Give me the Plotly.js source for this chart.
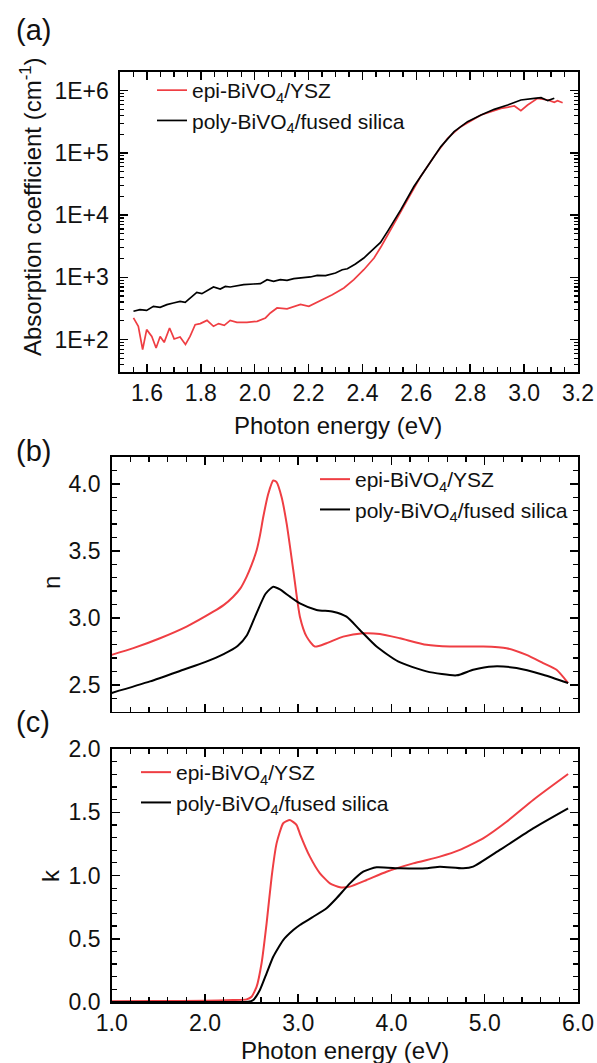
<!DOCTYPE html>
<html><head><meta charset="utf-8">
<script src="https://cdn.plot.ly/plotly-3.0.1.min.js"></script>
<style>html,body{margin:0;padding:0;background:#fff}#chart{width:597px;height:1063px}</style>
</head><body><div id="chart"></div>
<script>
// ---------- data ----------
const labelEpi = 'epi-BiVO<sub>4</sub>/YSZ';
const labelPoly = 'poly-BiVO<sub>4</sub>/fused silica';

// (a) absorption coefficient (cm^-1) vs photon energy (eV)
const absEpiE = [1.550,1.568,1.584,1.599,1.618,1.634,1.649,1.664,1.684,1.701,1.723,1.743,1.760,1.779,1.798,1.823,1.847,1.866,1.887,1.909,1.934,1.971,2.009,2.040,2.058,2.083,2.120,2.145,2.170,2.201,2.226,2.256,2.288,2.331,2.368,2.405,2.443,2.470,2.517,2.567,2.616,2.666,2.716,2.765,2.840,2.914,2.964,2.988,3.013,3.050,3.088,3.112,3.124,3.143];
const absEpi = [222,163,69,144,112,73,112,90,153,102,110,83,112,173,180,203,163,180,169,203,189,189,196,222,267,321,310,341,367,341,386,437,526,673,914,1324,2042,3162,7447,17620,41690,87300,172200,264200,407400,521200,567500,477500,588800,755100,709600,651600,691800,641200];
const absPolyE = [1.550,1.574,1.599,1.624,1.649,1.674,1.698,1.723,1.742,1.760,1.785,1.804,1.823,1.847,1.872,1.891,1.909,1.934,1.959,1.996,2.021,2.046,2.070,2.095,2.120,2.145,2.170,2.207,2.232,2.263,2.300,2.325,2.344,2.374,2.405,2.440,2.467,2.495,2.523,2.542,2.591,2.641,2.691,2.740,2.790,2.840,2.889,2.939,2.988,3.038,3.063,3.088,3.112];
const absPoly = [284,302,294,341,329,363,386,410,395,466,573,546,617,698,649,714,698,733,760,780,789,914,859,914,891,951,965,1012,1074,1062,1172,1324,1374,1633,2042,2818,3631,5623,8913,12160,28770,60260,126200,219800,317700,407400,502300,588800,709600,755100,772700,691800,755100];
const absTickVals = [1e2,1e3,1e4,1e5,1e6];
const absTickText = ['1E+2','1E+3','1E+4','1E+5','1E+6'];

// (b) refractive index n
const nEpiE = [1.0,1.232,1.518,1.803,2.089,2.200,2.303,2.380,2.446,2.500,2.554,2.590,2.625,2.679,2.732,2.768,2.822,2.876,2.947,3.018,3.090,3.179,3.304,3.482,3.697,3.876,4.090,4.376,4.626,4.983,5.234,5.448,5.626,5.770,5.894];
const nEpi = [2.724,2.774,2.848,2.935,3.046,3.095,3.158,3.220,3.306,3.395,3.504,3.615,3.752,3.926,4.025,4.012,3.900,3.703,3.356,3.009,2.860,2.786,2.811,2.860,2.885,2.880,2.848,2.799,2.786,2.786,2.774,2.724,2.663,2.613,2.514];
const nPolyE = [1.0,1.411,1.768,2.000,2.200,2.350,2.450,2.550,2.650,2.732,2.804,2.911,3.018,3.197,3.375,3.518,3.661,3.840,4.070,4.376,4.698,4.876,5.090,5.341,5.626,5.894];
const nPoly = [2.440,2.526,2.613,2.670,2.730,2.790,2.870,3.030,3.180,3.232,3.212,3.158,3.108,3.059,3.046,3.009,2.910,2.786,2.675,2.601,2.571,2.613,2.638,2.626,2.576,2.514];

// (c) extinction coefficient k
const kEpiE = [1.0,1.5,2.0,2.3,2.446,2.500,2.554,2.607,2.661,2.715,2.768,2.839,2.911,2.983,3.018,3.125,3.233,3.340,3.447,3.554,3.733,3.947,4.233,4.519,4.733,4.983,5.234,5.519,5.733,5.894];
const kEpi = [0.005,0.007,0.010,0.015,0.021,0.042,0.121,0.306,0.622,0.990,1.254,1.413,1.439,1.399,1.330,1.149,1.017,0.938,0.907,0.912,0.964,1.030,1.096,1.149,1.202,1.294,1.425,1.597,1.715,1.802];
const kPolyE = [1.0,1.5,2.0,2.3,2.464,2.518,2.589,2.661,2.732,2.839,2.947,3.018,3.161,3.304,3.411,3.554,3.697,3.840,4.090,4.376,4.519,4.769,4.876,5.162,5.519,5.894];
const kPoly = [0,0,0,0,0.002,0.016,0.095,0.227,0.358,0.490,0.569,0.609,0.674,0.741,0.820,0.938,1.030,1.065,1.057,1.057,1.070,1.057,1.070,1.202,1.373,1.531];

// ---------- style ----------
const RED = '#ef3e43';
const FONT = 'Arial, "Liberation Sans", Helvetica, sans-serif';
const W = 597, H = 1063;
const fx = p => p / W;
const fy = p => 1 - p / H;

const minorLog = [];
for (let d = 1; d <= 6; d++) for (let m = 2; m <= 9; m++) minorLog.push(m * Math.pow(10, d));

const traces = [
  {x: absEpiE, y: absEpi, name: labelEpi, type: 'scatter', mode: 'lines', line: {color: RED, width: 1.7}, xaxis: 'x', yaxis: 'y', legend: 'legend'},
  {x: absPolyE, y: absPoly, name: labelPoly, type: 'scatter', mode: 'lines', line: {color: '#000', width: 1.7}, xaxis: 'x', yaxis: 'y', legend: 'legend'},
  {x: nEpiE, y: nEpi, name: labelEpi, type: 'scatter', mode: 'lines', line: {color: RED, width: 2, shape: 'spline', smoothing: 0.6}, xaxis: 'x2', yaxis: 'y2', legend: 'legend2'},
  {x: nPolyE, y: nPoly, name: labelPoly, type: 'scatter', mode: 'lines', line: {color: '#000', width: 2, shape: 'spline', smoothing: 0.6}, xaxis: 'x2', yaxis: 'y2', legend: 'legend2'},
  {x: kEpiE, y: kEpi, name: labelEpi, type: 'scatter', mode: 'lines', line: {color: RED, width: 2, shape: 'spline', smoothing: 0.5}, xaxis: 'x3', yaxis: 'y3', legend: 'legend3'},
  {x: kPolyE, y: kPoly, name: labelPoly, type: 'scatter', mode: 'lines', line: {color: '#000', width: 2, shape: 'spline', smoothing: 0.5}, xaxis: 'x3', yaxis: 'y3', legend: 'legend3'}
];

const TICKFONT = {family: FONT, size: 23, color: '#111'};
const baseAxis = {
  showline: true, linecolor: '#000', linewidth: 1.6, mirror: 'ticks',
  ticks: 'inside', ticklen: 8, tickwidth: 1.5, tickcolor: '#000',
  showgrid: false, zeroline: false, ticklabelstandoff: 5,
  tickfont: TICKFONT
};
const minorLin = (dt) => ({ticks: 'inside', dtick: dt, ticklen: 5, tickwidth: 1.3, tickcolor: '#000', showgrid: false});

const legendBase = {
  bgcolor: 'rgba(0,0,0,0)', borderwidth: 0, xanchor: 'left', yanchor: 'top',
  font: {family: FONT, size: 21, color: '#111'}, tracegroupgap: 0
};

const ann = (text, x, y, size, extra) => Object.assign({
  text: text, xref: 'paper', yref: 'paper', x: fx(x), y: fy(y), showarrow: false,
  xanchor: 'center', yanchor: 'middle', font: {family: FONT, size: size, color: '#111'}
}, extra || {});

const layout = {
  width: W, height: H, margin: {l: 0, r: 0, t: 0, b: 0},
  paper_bgcolor: '#fff', plot_bgcolor: '#fff', showlegend: true,
  xaxis: Object.assign({}, baseAxis, {
    domain: [fx(120), fx(578)], anchor: 'y', range: [1.5, 3.2], dtick: 0.2, tick0: 0, tickformat: '.1f',
    minor: minorLin(0.05), ticklabelstandoff: 0
  }),
  yaxis: Object.assign({}, baseAxis, {
    domain: [fy(372), fy(72)], anchor: 'x', type: 'log', range: [Math.log10(30), Math.log10(2e6)],
    tickmode: 'array', tickvals: absTickVals, ticktext: absTickText,
    minor: {ticks: 'inside', tickmode: 'array', tickvals: minorLog, ticklen: 4, tickwidth: 1.2, tickcolor: '#000', showgrid: false}
  }),
  xaxis2: Object.assign({}, baseAxis, {
    domain: [fx(111.7), fx(578)], anchor: 'y2', range: [1, 6], dtick: 1, tick0: 0, showticklabels: false,
    minor: minorLin(0.2)
  }),
  yaxis2: Object.assign({}, baseAxis, {
    domain: [fy(711.7), fy(457)], anchor: 'x2', range: [2.3, 4.2], dtick: 0.5, tick0: 0, tickformat: '.1f',
    minor: minorLin(0.1)
  }),
  xaxis3: Object.assign({}, baseAxis, {
    domain: [fx(111.7), fx(578)], anchor: 'y3', range: [1, 6], dtick: 1, tick0: 0, tickformat: '.1f',
    minor: minorLin(0.2), ticklabelstandoff: 0
  }),
  yaxis3: Object.assign({}, baseAxis, {
    domain: [fy(1002), fy(749)], anchor: 'x3', range: [0, 2], dtick: 0.5, tick0: 0, tickformat: '.1f',
    minor: minorLin(0.1)
  }),
  legend: Object.assign({}, legendBase, {x: fx(152), y: fy(70)}),
  legend2: Object.assign({}, legendBase, {x: fx(315), y: fy(459)}),
  legend3: Object.assign({}, legendBase, {x: fx(136), y: fy(752)}),
  annotations: [
    ann('(a)', 33, 30, 29),
    ann('(b)', 33, 451, 29),
    ann('(c)', 33, 722, 29),
    ann('Absorption coefficient (cm<sup>-1</sup>)', 31, 207, 24, {textangle: -90}),
    ann('Photon energy (eV)', 338, 426, 24),
    ann('n', 51, 583, 24, {textangle: -90}),
    ann('k', 50, 876, 24, {textangle: -90}),
    ann('Photon energy (eV)', 345, 1050, 24)
  ]
};

Plotly.newPlot('chart', traces, layout, {staticPlot: true, displayModeBar: false});
</script>
</body></html>
